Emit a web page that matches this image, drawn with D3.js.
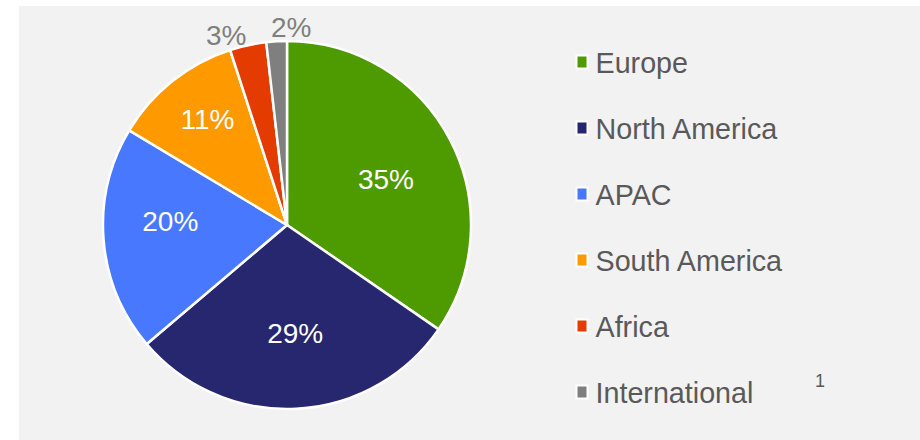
<!DOCTYPE html>
<html>
<head>
<meta charset="utf-8">
<script src="https://cdn.jsdelivr.net/npm/d3@7/dist/d3.min.js"></script>
<style>
  html, body { margin: 0; padding: 0; background: #ffffff; }
  svg { display: block; font-family: "Liberation Sans", Arial, sans-serif; }
</style>
</head>
<body>
<svg id="chart" width="920" height="440"></svg>
<script>
const categories = ["Europe", "North America", "APAC", "South America", "Africa", "International"];
const values = [34.6, 29.2, 19.8, 11.4, 3.2, 1.8];
const colors = ["#4e9a01", "#27276f", "#4878fe", "#fe9900", "#e33b00", "#7f7f7f"];
const footnote = "1";

const svg = d3.select("#chart");
const W = 920, H = 440;

// panel background
svg.append("rect")
  .attr("x", 19).attr("y", 6)
  .attr("width", W - 19).attr("height", H - 6)
  .attr("fill", "#f2f2f2");

const cx = 287, cy = 225, R = 184;
const data = categories.map((c, i) => ({ name: c, value: values[i], color: colors[i] }));

const pie = d3.pie().value(d => d.value).sort(null);
const arcs = pie(data);
const arc = d3.arc().innerRadius(0).outerRadius(R);
const labelArc = d3.arc().innerRadius(R * 0.62).outerRadius(R * 0.62);
const outerArc = d3.arc().innerRadius(R + 12).outerRadius(R + 12);

// best-fit style nudges for the data labels (layout only)
const inNudge = [[-2, 7], [2.5, -6.5], [-3, -13], [-8.5, -17]];
const outNudge = [[1, 11.5, "end"], [-5, 8, "start"]];

const g = svg.append("g").attr("transform", `translate(${cx},${cy})`);

g.selectAll("path.slice")
  .data(arcs)
  .join("path")
  .attr("class", "slice")
  .attr("d", arc)
  .attr("fill", d => d.data.color)
  .attr("stroke", "#ffffff")
  .attr("stroke-width", 2.5)
  .attr("stroke-linejoin", "round");

const fmt = v => Math.round(v) + "%";

// inside labels
g.selectAll("text.inlabel")
  .data(arcs.filter(d => d.data.value >= 5))
  .join("text")
  .attr("class", "inlabel")
  .attr("transform", (d, i) => {
    const [x, y] = labelArc.centroid(d);
    return `translate(${x + inNudge[i][0]},${y + inNudge[i][1]})`;
  })
  .attr("text-anchor", "middle")
  .attr("dy", "0.36em")
  .attr("fill", "#ffffff")
  .attr("font-size", 28)
  .text(d => fmt(d.data.value));

// outside labels (small slices)
g.selectAll("text.outlabel")
  .data(arcs.filter(d => d.data.value < 5))
  .join("text")
  .attr("class", "outlabel")
  .attr("transform", (d, i) => {
    const [x, y] = outerArc.centroid(d);
    return `translate(${x + outNudge[i][0]},${y + outNudge[i][1]})`;
  })
  .attr("text-anchor", (d, i) => outNudge[i][2])
  .attr("fill", "#7f7f7f")
  .attr("font-size", 28)
  .text(d => fmt(d.data.value));

// legend
const ly = d3.scalePoint().domain(categories).range([62, 392]);
const lg = svg.append("g");
const items = lg.selectAll("g.item").data(data).join("g")
  .attr("class", "item")
  .attr("transform", d => `translate(575,${ly(d.name)})`);
items.append("rect")
  .attr("x", 1.5).attr("y", -6.5)
  .attr("width", 11).attr("height", 13)
  .attr("fill", d => d.color)
  .attr("stroke", "#ffffff").attr("stroke-width", 2);
items.append("text")
  .attr("x", 20.5).attr("y", 11)
  .attr("fill", "#595959")
  .attr("font-size", 28.7)
  .text(d => d.name);

svg.append("text")
  .attr("x", 815).attr("y", 387)
  .attr("fill", "#595959")
  .attr("font-size", 18)
  .text(footnote);
</script>
</body>
</html>
